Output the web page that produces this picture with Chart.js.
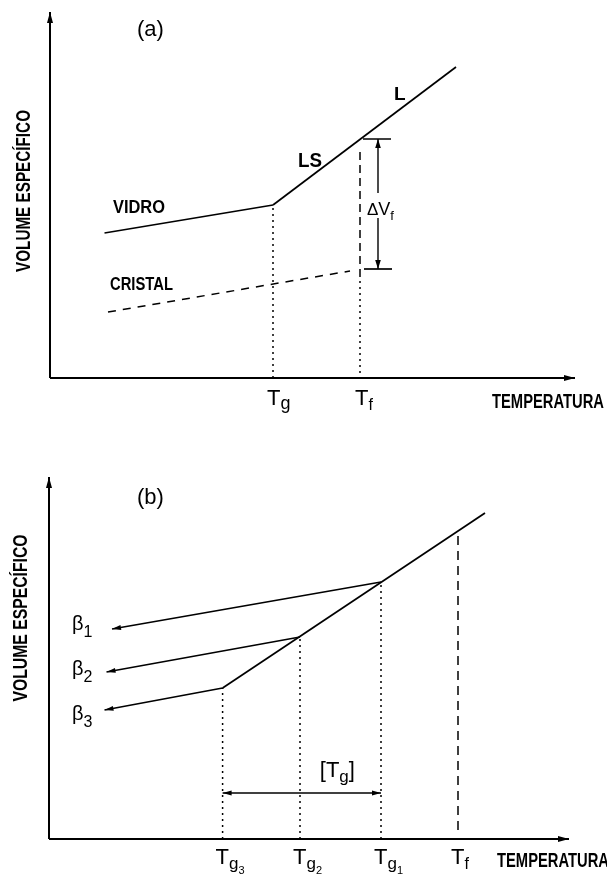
<!DOCTYPE html>
<html><head><meta charset="utf-8">
<script src="https://cdn.jsdelivr.net/npm/chart.js@4"></script>
<style>
html,body{margin:0;padding:0;background:#fff;width:607px;height:878px;overflow:hidden}
canvas{position:absolute;left:0}
#ca{top:0}#cb{top:420px}
</style></head><body>
<canvas id="ca" width="607" height="420"></canvas>
<canvas id="cb" width="607" height="458"></canvas>
<script>
// ---------- Panel (a): schematic values (temperature, specific volume) ----------
const axisEndA = [52.5, 36.6];
const glassA   = [[5.45, 14.5], [22.3, 17.3]];   // VIDRO
const liquidA  = [[22.3, 17.3], [40.6, 31.1]];   // LS -> L
const crystalA = [[5.8, 6.6], [30.0, 10.7]];     // CRISTAL
const TgA = 22.3, TfA = 31.0;
const dVA = [23.9, 10.9];                        // liquid / crystal volume at Tf

// ---------- Panel (b) ----------
const axisEndB = [52.0, 36.2];
const liquidB  = [[17.36, 15.1], [43.6, 32.6]];
const TgB      = [33.2, 25.1, 17.36];            // Tg1, Tg2, Tg3
const VgB      = [25.7, 20.2, 15.1];
const betaEndB = [[6.3, 21.0], [5.75, 16.7], [5.55, 12.9]];
const betaNames = ['1', '2', '3'];
const TfB = 40.9, VfB = 30.7;
const rangeYB = 4.6;

const FONT = '"Liberation Sans", Arial, sans-serif';

function seg(points, extra) {
  return Object.assign({
    data: points.map(p => ({x: p[0], y: p[1]})),
    showLine: true, borderColor: '#000', borderWidth: 1.7,
    pointRadius: 0, fill: false, tension: 0
  }, extra || {});
}
const DOT = {borderDash: [2, 4], borderWidth: 1.5};

function head(ctx, fx, fy, tx, ty, len, half) {
  const a = Math.atan2(ty - fy, tx - fx);
  ctx.beginPath();
  ctx.moveTo(tx, ty);
  ctx.lineTo(tx - len * Math.cos(a) + half * Math.sin(a), ty - len * Math.sin(a) - half * Math.cos(a));
  ctx.lineTo(tx - len * Math.cos(a) - half * Math.sin(a), ty - len * Math.sin(a) + half * Math.cos(a));
  ctx.closePath();
  ctx.fill();
}
function rich(ctx, parts, x, y, weight) {
  let cx = x;
  parts.forEach(p => {
    ctx.font = (p.w || weight || 'normal') + ' ' + p.size + 'px ' + FONT;
    ctx.textAlign = 'left';
    ctx.textBaseline = 'alphabetic';
    ctx.fillText(p.t, cx, y + (p.dy || 0));
    cx += ctx.measureText(p.t).width + (p.gap || 0);
  });
}

const annot = {
  id: 'annot',
  afterDatasetsDraw(chart, args, opts) {
    const ctx = chart.ctx, xs = chart.scales.x, ys = chart.scales.y;
    const X = v => xs.getPixelForValue(v), Y = v => ys.getPixelForValue(v);
    ctx.save();
    ctx.fillStyle = '#000';
    (opts.arrows || []).forEach(a => head(ctx, X(a.from[0]), Y(a.from[1]), X(a.tip[0]), Y(a.tip[1]), a.len || 9, a.half || 3));
    (opts.texts || []).forEach(t => {
      ctx.font = (t.w || 'bold') + ' ' + t.size + 'px ' + FONT;
      ctx.textAlign = t.align || 'left';
      ctx.textBaseline = 'alphabetic';
      const px = X(t.x) + (t.dx || 0), py = Y(t.y) + (t.dy || 0);
      if (t.rot) {
        ctx.save(); ctx.translate(px, py); ctx.rotate(t.rot);
        ctx.fillText(t.text, 0, 0, t.maxWidth); ctx.restore();
      } else if (t.maxWidth) ctx.fillText(t.text, px, py, t.maxWidth);
      else ctx.fillText(t.text, px, py);
    });
    (opts.rich || []).forEach(r => rich(ctx, r.parts, X(r.x) + (r.dx || 0), Y(r.y) + (r.dy || 0), r.w));
    ctx.restore();
  }
};

function baseOptions(xmin, xmax, ymin, ymax, plug) {
  return {
    responsive: false, animation: false, devicePixelRatio: 1, events: [],
    layout: {padding: 0},
    plugins: {legend: {display: false}, tooltip: {enabled: false}, annot: plug},
    scales: {
      x: {type: 'linear', display: false, min: xmin, max: xmax},
      y: {type: 'linear', display: false, min: ymin, max: ymax}
    }
  };
}

// ---------- Chart (a) ----------
const dvx = TfA + 1.8;
const dsA = [
  seg([[0, 0], [axisEndA[0], 0]], {borderWidth: 2}),
  seg([[0, 0], [0, axisEndA[1]]], {borderWidth: 2}),
  seg(glassA), seg(liquidA),
  seg(crystalA, {borderDash: [8, 7], borderWidth: 1.5}),
  seg([[TgA, 0], [TgA, glassA[1][1]]], DOT),
  seg([[TfA, dVA[0] - 1.3], [TfA, dVA[1] - 0.6]], {borderDash: [8, 5], borderWidth: 1.5}),
  seg([[TfA, dVA[1] - 0.6], [TfA, 0]], DOT),
  seg([[dvx, dVA[0]], [dvx, 18.5]], {borderWidth: 1.4}),
  seg([[dvx, 16.0], [dvx, dVA[1]]], {borderWidth: 1.4}),
  seg([[TfA + 0.3, dVA[0]], [TfA + 3.1, dVA[0]]], {borderWidth: 1.5}),
  seg([[TfA + 0.4, dVA[1]], [TfA + 3.2, dVA[1]]], {borderWidth: 1.7})
];
const plugA = {
  arrows: [
    {from: [0, 0], tip: [axisEndA[0], 0], len: 11, half: 3},
    {from: [0, 0], tip: [0, axisEndA[1]], len: 11, half: 3},
    {from: [dvx, 18.5], tip: [dvx, dVA[0]], len: 9, half: 2.8},
    {from: [dvx, 16.0], tip: [dvx, dVA[1]], len: 9, half: 2.8}
  ],
  texts: [
    {text: '(a)', x: 8.7, y: 34.2, size: 22, w: 'normal'},
    {text: 'L', x: 34.4, y: 27.8, size: 19},
    {text: 'LS', x: 24.8, y: 21.1, size: 20, maxWidth: 24},
    {text: 'VIDRO', x: 6.3, y: 16.5, size: 18, maxWidth: 52},
    {text: 'CRISTAL', x: 6.0, y: 8.8, size: 19, maxWidth: 63},
    {text: 'TEMPERATURA', x: 44.2, y: -3.0, size: 20, maxWidth: 112},
    {text: 'VOLUME ESPECÍFICO', x: -2.05, y: 18.7, size: 20, align: 'center', rot: -Math.PI / 2, maxWidth: 162}
  ],
  rich: [
    {x: TgA, y: 0, dx: -6, dy: 27, parts: [{t: 'T', size: 22}, {t: 'g', size: 18, dy: 4}]},
    {x: TfA, y: 0, dx: -5, dy: 27, parts: [{t: 'T', size: 22}, {t: 'f', size: 16, dy: 5}]},
    {x: dvx, y: 16.3, dx: -11, parts: [{t: 'Δ', size: 17}, {t: 'V', size: 18}, {t: 'f', size: 13, dy: 5}]}
  ]
};
new Chart(document.getElementById('ca'), {
  type: 'scatter', data: {datasets: dsA},
  options: baseOptions(-5, 55.7, -4.2, 37.8, plugA), plugins: [annot]
});

// ---------- Chart (b) ----------
const dsB = [
  seg([[0, 0], [axisEndB[0], 0]], {borderWidth: 2}),
  seg([[0, 0], [0, axisEndB[1]]], {borderWidth: 2}),
  seg(liquidB),
  seg([[TfB, 0.9], [TfB, VfB]], {borderDash: [9, 6], borderWidth: 1.5}),
  seg([[TgB[2], rangeYB], [TgB[0], rangeYB]], {borderWidth: 1.5})
];
TgB.forEach((t, i) => {
  dsB.push(seg([[t, VgB[i]], betaEndB[i]], {borderWidth: 1.6}));
  dsB.push(seg([[t, 0], [t, VgB[i]]], DOT));
});
const betaY = [20.9, 16.4, 11.9];
const plugB = {
  arrows: [
    {from: [0, 0], tip: [axisEndB[0], 0], len: 11, half: 3},
    {from: [0, 0], tip: [0, axisEndB[1]], len: 11, half: 3},
    {from: [TgB[0], rangeYB], tip: [TgB[2], rangeYB], len: 9, half: 2.5},
    {from: [TgB[2], rangeYB], tip: [TgB[0], rangeYB], len: 9, half: 2.5}
  ].concat(TgB.map((t, i) => ({from: [t, VgB[i]], tip: betaEndB[i], len: 9, half: 2.5}))),
  texts: [
    {text: '(b)', x: 8.8, y: 33.5, size: 22, w: 'normal'},
    {text: 'TEMPERATURA', x: 44.8, y: -2.8, size: 20, maxWidth: 112},
    {text: 'VOLUME ESPECÍFICO', x: -2.2, y: 22.1, size: 20, align: 'center', rot: -Math.PI / 2, maxWidth: 167}
  ],
  rich: [
    {x: (TgB[0] + TgB[2]) / 2, y: rangeYB, dx: 18, dy: -16, parts: [{t: '[T', size: 22}, {t: 'g', size: 17, dy: 5}, {t: ']', size: 22}]},
    {x: TfB, y: 0, dx: -7, dy: 25, parts: [{t: 'T', size: 22}, {t: 'f', size: 16, dy: 5}]}
  ].concat(betaNames.map((n, i) => ({x: 2.3, y: betaY[i],
    parts: [{t: 'β', size: 20}, {t: n, size: 16, dy: 7}]})))
   .concat(TgB.map((t, i) => ({x: t, y: 0, dx: -7, dy: 25,
    parts: [{t: 'T', size: 22}, {t: 'g', size: 17, dy: 5}, {t: betaNames[i], size: 11, dy: 10}]})))
};
new Chart(document.getElementById('cb'), {
  type: 'scatter', data: {datasets: dsB},
  options: baseOptions(-4.9, 55.8, -3.9, 41.9, plugB), plugins: [annot]
});
</script>
</body></html>
